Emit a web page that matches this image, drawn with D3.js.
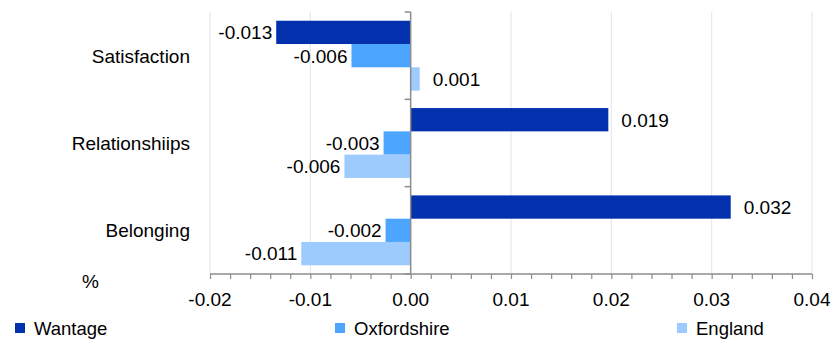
<!DOCTYPE html>
<html><head><meta charset="utf-8">
<script src="https://cdn.jsdelivr.net/npm/d3@7"></script>
<style>body{margin:0;background:#fff}svg{display:block;font-family:"Liberation Sans",Arial,sans-serif}</style>
</head><body><svg id="c" width="832" height="340"></svg>
<script>
const categories = ["Satisfaction", "Relationshiips", "Belonging"];
const series = ["Wantage", "Oxfordshire", "England"];
const colors = ["#0331ae", "#4ca6ff", "#9dcbfd"];
const wantage = [-0.0134, 0.0197, 0.0319];
const oxfordshire = [-0.0059, -0.0027, -0.0025];
const england = [0.0009, -0.0066, -0.0109];
const wantageLabels = ["-0.013", "0.019", "0.032"];
const oxfordshireLabels = ["-0.006", "-0.003", "-0.002"];
const englandLabels = ["0.001", "-0.006", "-0.011"];
const xTicks = [-0.02, -0.01, 0, 0.01, 0.02, 0.03, 0.04];
const xTickLabels = ["-0.02", "-0.01", "0.00", "0.01", "0.02", "0.03", "0.04"];
const axisTitle = "%";

(function () {
const values = [wantage, oxfordshire, england];
const labels = [wantageLabels, oxfordshireLabels, englandLabels];

const svg = d3.select("#c");
const pTop = 12, pBottom = 274, pLeft = 210, pRight = 812;
const x = d3.scaleLinear().domain([-0.02, 0.04]).range([pLeft, pRight]);
const y0 = d3.scaleBand().domain(categories).range([pTop, pBottom]).padding(0);
const bw = y0.bandwidth();
const y1 = d3.scaleBand().domain(series).range([bw * 0.1, bw * 0.9]).padding(0);
const FS = 19;

// gridlines
svg.append("g").selectAll("line").data(xTicks.filter(t => t !== 0)).join("line")
  .attr("x1", d => x(d)).attr("x2", d => x(d)).attr("y1", pTop).attr("y2", pBottom)
  .attr("stroke", "#e8e8e8").attr("stroke-width", 1.2);

// bars
const gBars = svg.append("g");
const gLab = svg.append("g");
series.forEach((s, si) => {
  categories.forEach((c, ci) => {
    const v = values[si][ci];
    gBars.append("rect")
      .attr("x", Math.min(x(0), x(v)))
      .attr("width", Math.abs(x(v) - x(0)))
      .attr("y", y0(c) + y1(s))
      .attr("height", y1.bandwidth())
      .attr("fill", colors[si]);
    const yc = y0(c) + y1(s) + y1.bandwidth() / 2;
    gLab.append("text")
      .attr("x", v < 0 ? x(v) - 4 : x(v) + 13)
      .attr("y", yc).attr("dy", "0.36em")
      .attr("text-anchor", v < 0 ? "end" : "start")
      .attr("font-size", FS).attr("fill", "#000")
      .text(labels[si][ci]);
  });
});

// bottom axis
const xAxis = d3.axisBottom(x).tickValues(d3.range(0, 31).map(i => -0.02 + i * 0.002)).tickSize(5).tickFormat("");
const gx = svg.append("g").attr("transform", `translate(0,${pBottom})`).call(xAxis);
gx.select(".domain").attr("stroke", "#8c8c8c").attr("stroke-width", 1.5).attr("d", `M${pLeft},0H${pRight}`);
gx.selectAll(".tick line").attr("stroke", "#8c8c8c").attr("stroke-width", 1.2);
svg.append("g").selectAll("text").data(xTicks).join("text")
  .attr("x", (d) => x(d)).attr("y", 305.5).attr("text-anchor", "middle")
  .attr("font-size", FS).text((d, i) => xTickLabels[i]);

// vertical axis at zero
const yAxis = d3.axisLeft(y0).tickSize(0).tickFormat("");
const gy = svg.append("g").attr("transform", `translate(${x(0)},0)`).call(yAxis);
gy.select(".domain").attr("stroke", "#8c8c8c").attr("stroke-width", 1.5).attr("d", `M0,${pTop}V${pBottom}`);
const bounds = categories.map(c => y0(c)).concat([pBottom]);
gy.selectAll(".bnd").data(bounds).join("line").attr("class", "bnd")
  .attr("x1", -6).attr("x2", 0).attr("y1", d => d).attr("y2", d => d)
  .attr("stroke", "#8c8c8c").attr("stroke-width", 1.5);

// category labels
svg.append("g").selectAll("text").data(categories).join("text")
  .attr("x", 190).attr("y", d => y0(d) + bw / 2).attr("dy", "0.36em")
  .attr("text-anchor", "end").attr("font-size", FS).text(d => d);

// axis title
svg.append("text").attr("x", 82).attr("y", 288).attr("font-size", FS).text(axisTitle);

// legend
const legX = [15, 335, 677];
const lg = svg.append("g").selectAll("g").data(series).join("g")
  .attr("transform", (d, i) => `translate(${legX[i]},0)`);
lg.append("rect").attr("x", 0).attr("y", 323).attr("width", 10).attr("height", 10)
  .attr("fill", (d, i) => colors[i]);
lg.append("text").attr("x", 19).attr("y", 335).attr("font-size", 18.5).text(d => d);
})();
</script></body></html>
